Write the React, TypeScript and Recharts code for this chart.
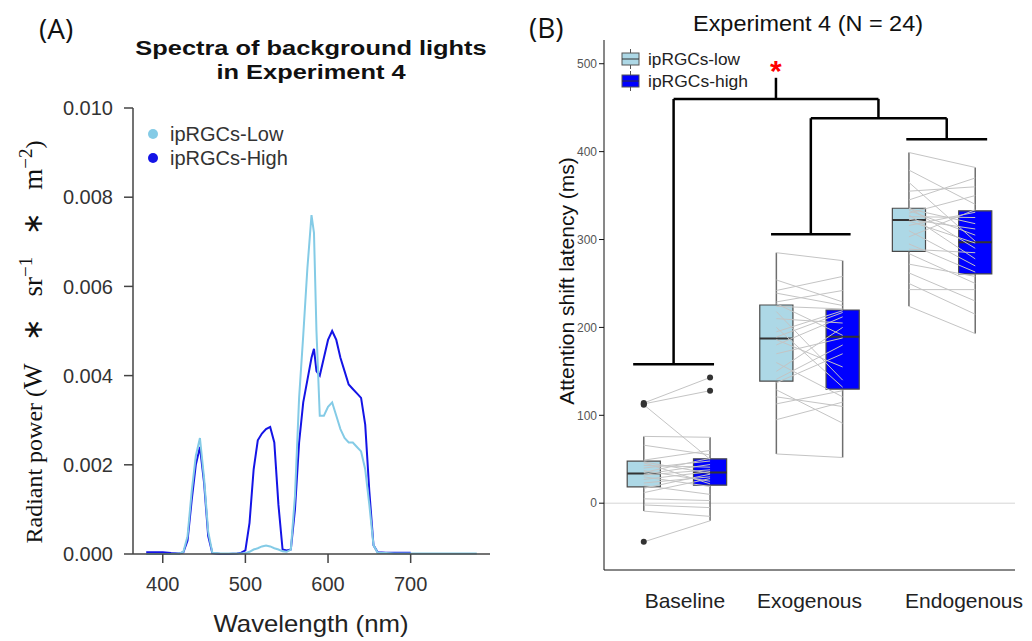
import React from "react"
import {
  LineChart,
  Line,
  XAxis,
  YAxis,
  ComposedChart,
  ReferenceLine,
  ReferenceArea,
  ReferenceDot,
  Scatter,
} from "recharts"

// ---------- Panel A : spectra ----------
const wavelengths = [
  380, 390, 400, 410, 420, 425, 430, 435, 440, 445, 450, 455, 460, 470, 480, 490, 495, 500, 505, 510,
  515, 520, 525, 530, 535, 540, 545, 550, 555, 560, 565, 570, 575, 580, 583, 586, 590, 595, 600, 605,
  610, 615, 620, 625, 630, 635, 640, 645, 650, 655, 660, 670, 680, 690, 700, 720, 740, 760, 780,
]
const lowPower = [
  0, 0, 0, 0, 0.00001, 0.00005, 0.0004, 0.0014, 0.0022, 0.0026, 0.0017, 0.0005, 0.00003, 0.00001, 0.00001,
  0.00001, 0.00001, 0.00002, 0.00005, 0.0001, 0.00013, 0.00017, 0.00019, 0.00017, 0.00013, 0.0001, 0.00006,
  0.00005, 0.0001, 0.0013, 0.0035, 0.0049, 0.0064, 0.0076, 0.0072, 0.005, 0.0031, 0.0031, 0.0033, 0.0034,
  0.0031, 0.0028, 0.0026, 0.0025, 0.0025, 0.0024, 0.0023, 0.0019, 0.0011, 0.0002, 0.00003, 0.00002, 0.00001,
  0.00001, 0.00001, 0.00001, 0.00001, 0.00001, 0.00001,
]
const highPower = [
  0.00004, 0.00004, 0.00004, 0.00002, 0.00001, 0.00004, 0.0003, 0.0012, 0.002, 0.0024, 0.0016, 0.0004,
  0.00002, 0, 0, 0.00001, 0.00003, 0.00008, 0.0007, 0.0019, 0.00255, 0.0027, 0.0028, 0.00285, 0.0025, 0.0011,
  0.0001, 0.00008, 0.0001, 0.001, 0.0025, 0.0034, 0.0039, 0.0044, 0.0046, 0.0041, 0.004, 0.0044, 0.0048,
  0.005, 0.0048, 0.0044, 0.0041, 0.0038, 0.0037, 0.0036, 0.0035, 0.0029, 0.0014, 0.0002, 0.00004, 0.00003,
  0.00003, 0.00003, 0.00003, null, null, null, null,
]
const wlTicks = [400, 500, 600, 700]
const powerTicks = [0, 0.002, 0.004, 0.006, 0.008, 0.01]

const spectrum = wavelengths.map((wl, i) => ({ wl, low: lowPower[i], high: highPower[i] }))

// ---------- Panel B : attention shift latency ----------
const conditions = ["Baseline", "Exogenous", "Endogenous"]
const latencyTicks = [0, 100, 200, 300, 400, 500]

// box statistics (Baseline, Exogenous, Endogenous)
const lowQ1 = [18.6, 139, 286.6]
const lowMedian = [33.8, 187.5, 322.3]
const lowQ3 = [47.8, 225.5, 335.6]
const highQ1 = [20.5, 129.8, 260.8]
const highMedian = [35, 189.5, 297]
const highQ3 = [50.5, 219.8, 332.6]

// per participant latencies (ms), same order in low / high
const baselineLow = [114, 113, 112, 76, 66, 49, 47, 46, 43, 40, 37, 35, 33, 32, 30, 27, 23, 20, 17, 12, 5, -2, -9, -44]
const baselineHigh = [143, 128, 50, 75, 55, 60, 34, 22, 41, 48, 25, 51, 44, 38, 19, 36, 30, 10, 33, 28, 3, -5, -15, -20]
const exogenousLow = [285, 254, 242, 239, 229, 227, 224, 218, 210, 200, 195, 189, 186, 180, 170, 160, 150, 141, 137, 129, 121, 113, 95, 56]
const exogenousHigh = [276, 229, 258, 225, 242, 191, 221, 140, 205, 132, 219, 217, 155, 212, 188, 121, 200, 180, 170, 91, 110, 128, 115, 52]
const endogenousLow = [399, 379, 365, 355, 345, 336, 335, 333, 330, 328, 326, 323, 321, 316, 310, 303, 295, 289, 284, 272, 262, 250, 243, 224]
const endogenousHigh = [382, 340, 298, 360, 370, 290, 318, 305, 350, 278, 325, 312, 296, 331, 270, 334, 263, 285, 250, 258, 230, 215, 243, 193]

// significance brackets, in axis units: [x1, x2, y] and stems [x, y1, y2]
const bracketBars = [
  [0.67, 1.28, 158],
  [1.71, 2.31, 306],
  [2.73, 3.34, 414],
  [2.01, 3.035, 438],
  [0.975, 2.52, 460],
]
const bracketStems = [
  [0.975, 158, 460],
  [2.01, 306, 438],
  [3.035, 414, 438],
  [2.52, 438, 460],
  [1.747, 460, 484],
]
const starPoint = { x: 1.747, y: 480 }

const lowCol = "#add8e6"
const highCol = "#0000ff"
const OFFSET = 0.25
const HALF = 0.125

const lowSets = [baselineLow, exogenousLow, endogenousLow]
const highSets = [baselineHigh, exogenousHigh, endogenousHigh]

// ggplot style whiskers: most extreme values inside 1.5 * IQR
const whiskers = (vals: number[], q1: number, q3: number) => {
  const iqr = q3 - q1
  const inside = vals.filter((v) => v >= q1 - 1.5 * iqr && v <= q3 + 1.5 * iqr)
  return [Math.min(...inside), Math.max(...inside)]
}

type Box = { x: number; q1: number; med: number; q3: number; lo: number; hi: number; fill: string }
const boxes: Box[] = []
const outliers: { x: number; y: number }[] = []
const pairs: { x1: number; y1: number; x2: number; y2: number }[] = []

conditions.forEach((_, k) => {
  const pos = k + 1
  const lw = whiskers(lowSets[k], lowQ1[k], lowQ3[k])
  const hw = whiskers(highSets[k], highQ1[k], highQ3[k])
  boxes.push({ x: pos - OFFSET, q1: lowQ1[k], med: lowMedian[k], q3: lowQ3[k], lo: lw[0], hi: lw[1], fill: lowCol })
  boxes.push({ x: pos + OFFSET, q1: highQ1[k], med: highMedian[k], q3: highQ3[k], lo: hw[0], hi: hw[1], fill: highCol })
  lowSets[k].forEach((v, i) => {
    pairs.push({ x1: pos - OFFSET, y1: v, x2: pos + OFFSET, y2: highSets[k][i] })
    if (v < lw[0] || v > lw[1]) outliers.push({ x: pos - OFFSET, y: v })
    const h = highSets[k][i]
    if (h < hw[0] || h > hw[1]) outliers.push({ x: pos + OFFSET, y: h })
  })
})

const labelShift = [8, 0, 22]

const ConditionTick = (props: any) => {
  const { x, y, payload } = props
  const i = Math.round(payload.value) - 1
  return (
    <text x={x + (labelShift[i] ?? 0)} y={y + 38} textAnchor="middle" fontSize={21} fill="#222">
      {conditions[i] ?? ""}
    </text>
  )
}

const sans = "'Liberation Sans', Arial, sans-serif"
const serif = "'Liberation Serif', 'Times New Roman', serif"

export default function App() {
  return (
    <div style={{ position: "absolute", left: 0, top: 0, width: 1032, height: 641, background: "#fff", fontFamily: sans }}>
      {/* Panel A */}
      <div style={{ position: "absolute", left: 0, top: 0 }}>
        <LineChart width={520} height={641} data={spectrum} margin={{ top: 108, right: 30, bottom: 0, left: 0 }}>
          <XAxis
            dataKey="wl"
            type="number"
            domain={[364, 796]}
            ticks={wlTicks}
            height={87}
            tickSize={9}
            tickMargin={14}
            stroke="#444"
            strokeWidth={1.5}
            tick={{ fill: "#333", fontSize: 20, fontFamily: sans }}
          />
          <YAxis
            type="number"
            domain={[0, 0.01]}
            ticks={powerTicks}
            width={133}
            tickSize={9}
            tickMargin={11}
            stroke="#444"
            strokeWidth={1.5}
            tickFormatter={(v: number) => v.toFixed(3)}
            tick={{ fill: "#333", fontSize: 20, fontFamily: sans }}
          />
          <Line type="linear" dataKey="high" stroke="#1414e6" strokeWidth={2} dot={false} isAnimationActive={false} />
          <Line type="linear" dataKey="low" stroke="#84cbe6" strokeWidth={2} dot={false} isAnimationActive={false} />
        </LineChart>
      </div>

      {/* Panel B */}
      <div style={{ position: "absolute", left: 520, top: 0 }}>
        <ComposedChart width={512} height={641} margin={{ top: 40, right: 17, bottom: 0, left: 0 }}>
          <XAxis
            dataKey="x"
            type="number"
            domain={[0.45, 3.55]}
            ticks={[1, 2, 3]}
            height={71}
            tickSize={0}
            tickMargin={0}
            tickLine={false}
            stroke="#111"
            tick={<ConditionTick />}
          />
          <YAxis
            dataKey="y"
            type="number"
            domain={[-76, 527]}
            ticks={latencyTicks}
            width={84}
            tickSize={5}
            tickMargin={2}
            stroke="#111"
            tick={{ fill: "#555", fontSize: 12, fontFamily: sans }}
          />
          <ReferenceLine y={0} stroke="#d6d6d6" strokeWidth={1} />
          {boxes.map((b, i) => (
            <ReferenceLine key={`wl-${i}`} segment={[{ x: b.x, y: b.lo }, { x: b.x, y: b.q1 }]} stroke="#6e6e6e" strokeWidth={1.5} />
          ))}
          {boxes.map((b, i) => (
            <ReferenceLine key={`wh-${i}`} segment={[{ x: b.x, y: b.q3 }, { x: b.x, y: b.hi }]} stroke="#6e6e6e" strokeWidth={1.5} />
          ))}
          {boxes.map((b, i) => (
            <ReferenceArea
              key={`box-${i}`}
              x1={b.x - HALF}
              x2={b.x + HALF}
              y1={b.q1}
              y2={b.q3}
              fill={b.fill}
              fillOpacity={1}
              stroke="#4a4a4a"
              strokeWidth={1.2}
            />
          ))}
          {boxes.map((b, i) => (
            <ReferenceLine key={`med-${i}`} segment={[{ x: b.x - HALF, y: b.med }, { x: b.x + HALF, y: b.med }]} stroke="#333" strokeWidth={2} />
          ))}
          {pairs.map((p, i) => (
            <ReferenceLine key={`pair-${i}`} segment={[{ x: p.x1, y: p.y1 }, { x: p.x2, y: p.y2 }]} stroke="#c4c4c4" strokeWidth={1} />
          ))}
          <Scatter
            data={outliers}
            dataKey="y"
            isAnimationActive={false}
            shape={(p: any) => <circle cx={p.cx} cy={p.cy} r={3} fill="#333" />}
          />
          {bracketBars.map((b, i) => (
            <ReferenceLine key={`bb-${i}`} segment={[{ x: b[0], y: b[2] }, { x: b[1], y: b[2] }]} stroke="#000" strokeWidth={2.5} />
          ))}
          {bracketStems.map((s, i) => (
            <ReferenceLine key={`bs-${i}`} segment={[{ x: s[0], y: s[1] }, { x: s[0], y: s[2] }]} stroke="#000" strokeWidth={2.5} />
          ))}
          <ReferenceDot
            x={starPoint.x}
            y={starPoint.y}
            r={0}
            label={(p: any) => (
              <text x={p.viewBox.x + (p.viewBox.width || 0) / 2} y={p.viewBox.y + (p.viewBox.height || 0) / 2} textAnchor="middle" fontSize={30} fontWeight="bold" fill="#ff0000">
                *
              </text>
            )}
          />
        </ComposedChart>
      </div>

      {/* titles, axis labels, legends */}
      <svg width={1032} height={641} style={{ position: "absolute", left: 0, top: 0, pointerEvents: "none" }}>
        <text x={39} y={39} fontSize={28} fontFamily="'Open Sans', sans-serif" fill="#111">(A)</text>
        <text x={529} y={38} fontSize={28} fontFamily="'Open Sans', sans-serif" fill="#111">(B)</text>

        <g transform="translate(311,0) scale(1.27,1)">
          <text textAnchor="middle" fontSize={20} fontWeight="bold" fontFamily={sans} fill="#111">
            <tspan x={0} y={55}>Spectra of background lights</tspan>
            <tspan x={0} y={79}>in Experiment 4</tspan>
          </text>
        </g>

        <text transform="translate(42,342) rotate(-90)" textAnchor="middle" fontSize={24} fontFamily={serif} fill="#111">
          Radiant power (
          <tspan fontSize={27}>W</tspan>
          <tspan dx={22} fontSize={27}>∗</tspan>
          <tspan dx={22} fontSize={27}>sr</tspan>
          <tspan dy={-10} fontSize={19}>−1</tspan>
          <tspan dy={10} dx={22} fontSize={27}>∗</tspan>
          <tspan dx={22} fontSize={27}>m</tspan>
          <tspan dy={-10} fontSize={19}>−2</tspan>
          <tspan dy={10}>)</tspan>
        </text>

        <text x={311} y={632} textAnchor="middle" fontSize={24} fontFamily={sans} fill="#222" textLength={195} lengthAdjust="spacingAndGlyphs">
          Wavelength (nm)
        </text>

        <circle cx={153} cy={134} r={5} fill="#84cbe6" />
        <circle cx={153} cy={158} r={5} fill="#1414e6" />
        <text x={170} y={141} fontSize={20} fontFamily={sans} fill="#333">ipRGCs-Low</text>
        <text x={170} y={165} fontSize={20} fontFamily={sans} fill="#333">ipRGCs-High</text>

        <text x={808} y={31} textAnchor="middle" fontSize={22} fontFamily={sans} fill="#111" textLength={230} lengthAdjust="spacingAndGlyphs">
          Experiment 4 (N = 24)
        </text>

        <text transform="translate(574,281) rotate(-90)" textAnchor="middle" fontSize={21} fontFamily={sans} fill="#111">
          Attention shift latency (ms)
        </text>

        <line x1={630.5} x2={630.5} y1={49} y2={69} stroke="#555" />
        <rect x={622} y={53} width={17} height={12} fill={lowCol} stroke="#555" />
        <line x1={622} x2={639} y1={59} y2={59} stroke="#333" />
        <line x1={630.5} x2={630.5} y1={71} y2={91} stroke="#555" />
        <rect x={622} y={75} width={17} height={12} fill={highCol} stroke="#555" />
        <line x1={622} x2={639} y1={81} y2={81} stroke="#333" />
        <text x={648} y={65} fontSize={17} fontFamily={sans} fill="#222" textLength={92} lengthAdjust="spacingAndGlyphs">ipRGCs-low</text>
        <text x={648} y={87} fontSize={17} fontFamily={sans} fill="#222" textLength={100} lengthAdjust="spacingAndGlyphs">ipRGCs-high</text>
      </svg>
    </div>
  )
}
